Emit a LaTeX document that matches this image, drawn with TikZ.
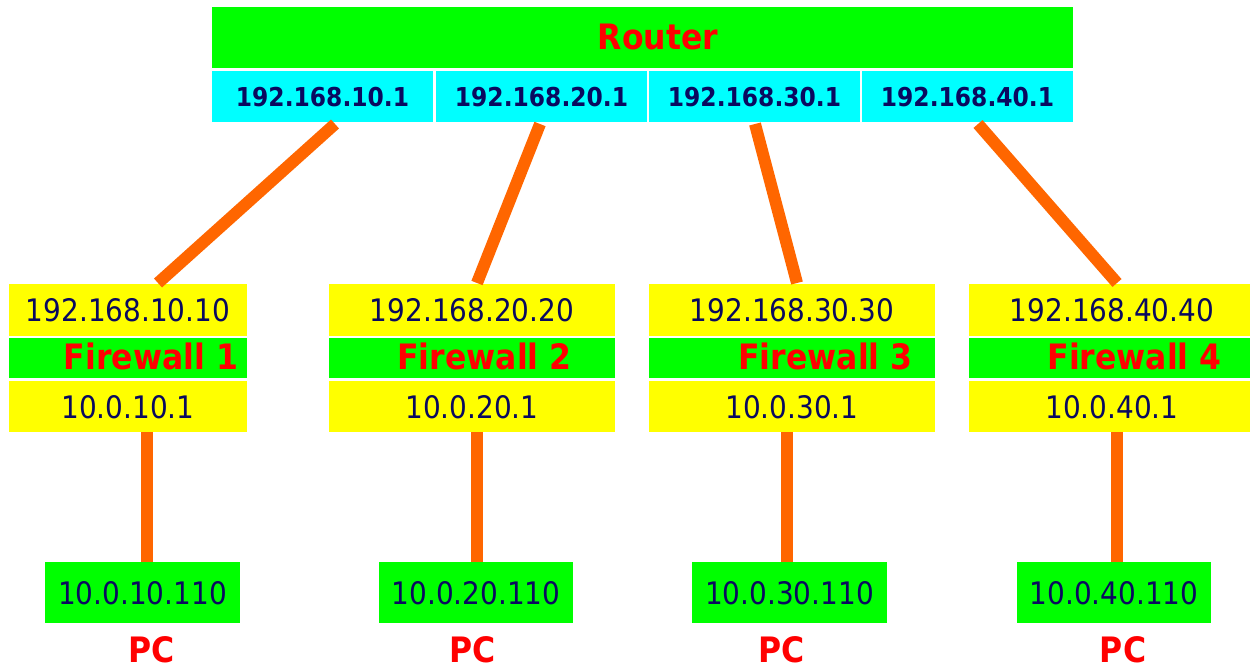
\documentclass[tikz,border=0pt]{standalone}
\usepackage{fontspec}
\setmainfont{DejaVu Sans}[FakeStretch=0.9]
\usetikzlibrary{calc}
\definecolor{grn}{HTML}{00FF00}
\definecolor{cyn}{HTML}{00FFFF}
\definecolor{ylw}{HTML}{FFFF00}
\definecolor{redt}{HTML}{FF0000}
\definecolor{navyt}{HTML}{0A0A5F}
\definecolor{org}{HTML}{FF6600}
\tikzset{
  cell/.style={inner sep=0pt, outer sep=0pt, text depth=0pt, text=navyt},
  ipreg/.style={cell, font=\fontsize{31}{31}\selectfont},
  ipbold/.style={cell, font=\bfseries\fontsize{26}{26}\selectfont},
  lbl/.style={inner sep=0pt, text depth=0pt, text=redt, font=\bfseries\fontsize{35}{35}\selectfont},
  link/.style={draw=org, line width=12pt},
}
\begin{document}
\begin{tikzpicture}[x=1pt,y=-1pt]
\useasboundingbox (0,0) rectangle (1250,670);
% Router
\node[cell, fill=grn, minimum width=861pt, minimum height=61pt] (router) at (642.5,37.5) {};
\node[lbl] (routerlbl) at (658,37) {Router};
\node[ipbold, fill=cyn, minimum width=221pt, minimum height=51pt] (c1) at (322.5,96.5) {192.168.10.1};
\node[ipbold, fill=cyn, minimum width=211pt, minimum height=51pt] (c2) at (541.5,96.5) {192.168.20.1};
\node[ipbold, fill=cyn, minimum width=211pt, minimum height=51pt] (c3) at (754.5,96.5) {192.168.30.1};
\node[ipbold, fill=cyn, minimum width=211pt, minimum height=51pt] (c4) at (967.5,96.5) {192.168.40.1};
% Firewalls
\foreach \n/\cx/\w/\lx/\net in {1/128/238/151/10, 2/472/286/484.5/20, 3/792/286/825.5/30, 4/1112/286/1134.5/40} {
  \node[ipreg, fill=ylw, minimum width=\w pt, minimum height=52pt] (fw\n top) at (\cx,310) {192.168.\net.\net};
  \node[cell, fill=grn, minimum width=\w pt, minimum height=40pt] (fw\n mid) at (\cx,358) {};
  \node[lbl] (fw\n lbl) at (\lx,356) {Firewall \n};
  \node[ipreg, fill=ylw, minimum width=\w pt, minimum height=51pt] (fw\n bot) at (\cx,406.5) {10.0.\net.1};
}
% PCs
\foreach \n/\cx/\w/\lx/\net in {1/142.5/195/152/10, 2/476/194/473/20, 3/789.5/195/782/30, 4/1114/194/1123/40} {
  \node[ipreg, fill=grn, minimum width=\w pt, minimum height=61pt] (pc\n) at (\cx,592.5) {10.0.\net.110};
  \node[lbl] (pc\n lbl) at (\lx,650) {PC};
}
% Links router -> firewalls
\draw[link] ($(c1.south)+(12.5,2)$) -- ($(fw1top.north)+(30,-1)$);
\draw[link] ($(c2.south)+(-1.5,2)$) -- ($(fw2top.north)+(5,-1)$);
\draw[link] ($(c3.south)+(0.5,2)$) -- ($(fw3top.north)+(5,-1)$);
\draw[link] ($(c4.south)+(10.5,2)$) -- ($(fw4top.north)+(5,-1)$);
% Links firewalls -> PCs
\draw[link] ($(fw1bot.south)+(19,0)$) -- ($(pc1.north)+(4.5,0)$);
\draw[link] ($(fw2bot.south)+(5,0)$) -- ($(pc2.north)+(1,0)$);
\draw[link] ($(fw3bot.south)+(-5,0)$) -- ($(pc3.north)+(-2.5,0)$);
\draw[link] ($(fw4bot.south)+(5,0)$) -- ($(pc4.north)+(3,0)$);
\end{tikzpicture}
\end{document}
